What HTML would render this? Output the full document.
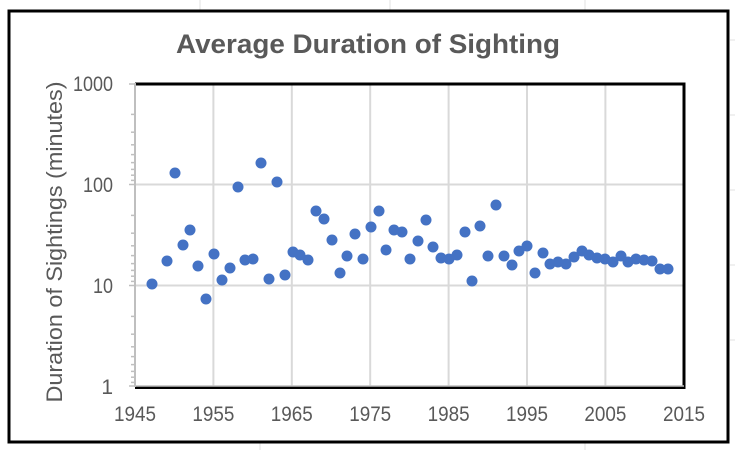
<!DOCTYPE html>
<html><head><meta charset="utf-8"><style>
body{margin:0;background:#fff;}
svg{display:block;font-family:"Liberation Sans",Arial,sans-serif;}
</style></head><body>
<svg width="735" height="450" viewBox="0 0 735 450" xmlns="http://www.w3.org/2000/svg">
<rect width="735" height="450" fill="#fff"/>
<g stroke="#e0e0e0" stroke-width="1">
<line x1="200" y1="0" x2="200" y2="10"/><line x1="390" y1="0" x2="390" y2="10"/><line x1="585" y1="0" x2="585" y2="10"/>
<line x1="730" y1="40" x2="735" y2="40"/><line x1="730" y1="115" x2="735" y2="115"/><line x1="730" y1="190" x2="735" y2="190"/><line x1="730" y1="265" x2="735" y2="265"/><line x1="730" y1="340" x2="735" y2="340"/>
<line x1="585" y1="442" x2="585" y2="450"/><line x1="260" y1="442" x2="260" y2="450"/>
</g>
<rect x="9" y="11" width="719" height="431" fill="#fff" stroke="#000" stroke-width="3"/>
<text x="368" y="53" text-anchor="middle" font-size="27" font-weight="bold" fill="#595959" textLength="384" lengthAdjust="spacingAndGlyphs">Average Duration of Sighting</text>
<g stroke="#d9d9d9" stroke-width="2">
<line x1="213.4" y1="84" x2="213.4" y2="387"/><line x1="291.8" y1="84" x2="291.8" y2="387"/><line x1="370.2" y1="84" x2="370.2" y2="387"/><line x1="448.6" y1="84" x2="448.6" y2="387"/><line x1="527" y1="84" x2="527" y2="387"/><line x1="605.4" y1="84" x2="605.4" y2="387"/>
<line x1="135" y1="184.5" x2="684" y2="184.5"/><line x1="135" y1="285.5" x2="684" y2="285.5"/>
</g>
<polyline points="135,84 684,84 684,387.5 135,387.5" fill="none" stroke="#000" stroke-width="3"/>
<line x1="135" y1="83" x2="135" y2="387" stroke="#bfbfbf" stroke-width="2"/>
<line x1="135" y1="386" x2="684" y2="386" stroke="#bfbfbf" stroke-width="1.5"/>
<g stroke="#bfbfbf" stroke-width="1.5">
<line x1="129" y1="84" x2="135" y2="84"/><line x1="129" y1="184.5" x2="135" y2="184.5"/><line x1="129" y1="285.5" x2="135" y2="285.5"/><line x1="129" y1="386" x2="135" y2="386"/>
<line x1="131" y1="114.4" x2="135" y2="114.4"/><line x1="131" y1="132.2" x2="135" y2="132.2"/><line x1="131" y1="144.8" x2="135" y2="144.8"/><line x1="131" y1="154.6" x2="135" y2="154.6"/><line x1="131" y1="162.6" x2="135" y2="162.6"/><line x1="131" y1="169.4" x2="135" y2="169.4"/><line x1="131" y1="175.2" x2="135" y2="175.2"/><line x1="131" y1="180.4" x2="135" y2="180.4"/>
<line x1="131" y1="215.4" x2="135" y2="215.4"/><line x1="131" y1="233.2" x2="135" y2="233.2"/><line x1="131" y1="245.8" x2="135" y2="245.8"/><line x1="131" y1="255.6" x2="135" y2="255.6"/><line x1="131" y1="263.6" x2="135" y2="263.6"/><line x1="131" y1="270.4" x2="135" y2="270.4"/><line x1="131" y1="276.2" x2="135" y2="276.2"/><line x1="131" y1="281.4" x2="135" y2="281.4"/>
<line x1="131" y1="316.4" x2="135" y2="316.4"/><line x1="131" y1="334.2" x2="135" y2="334.2"/><line x1="131" y1="346.8" x2="135" y2="346.8"/><line x1="131" y1="356.6" x2="135" y2="356.6"/><line x1="131" y1="364.6" x2="135" y2="364.6"/><line x1="131" y1="371.4" x2="135" y2="371.4"/><line x1="131" y1="377.2" x2="135" y2="377.2"/><line x1="131" y1="382.4" x2="135" y2="382.4"/>
</g>
<g font-size="21" fill="#595959" text-anchor="end">
<text x="113" y="91" textLength="40" lengthAdjust="spacingAndGlyphs">1000</text><text x="113" y="192" textLength="30" lengthAdjust="spacingAndGlyphs">100</text><text x="113" y="293" textLength="20" lengthAdjust="spacingAndGlyphs">10</text><text x="113" y="394">1</text>
</g>
<g font-size="21" fill="#595959" text-anchor="middle">
<text x="135" y="421" textLength="42" lengthAdjust="spacingAndGlyphs">1945</text><text x="213.4" y="421" textLength="42" lengthAdjust="spacingAndGlyphs">1955</text><text x="291.8" y="421" textLength="42" lengthAdjust="spacingAndGlyphs">1965</text><text x="370.2" y="421" textLength="42" lengthAdjust="spacingAndGlyphs">1975</text><text x="448.6" y="421" textLength="42" lengthAdjust="spacingAndGlyphs">1985</text><text x="527" y="421" textLength="42" lengthAdjust="spacingAndGlyphs">1995</text><text x="605.4" y="421" textLength="42" lengthAdjust="spacingAndGlyphs">2005</text><text x="684" y="421" textLength="42" lengthAdjust="spacingAndGlyphs">2015</text>
</g>
<text transform="translate(62,242) rotate(-90)" text-anchor="middle" font-size="22" fill="#595959" textLength="321" lengthAdjust="spacingAndGlyphs">Duration of Sightings (minutes)</text>
<g fill="#4472C4">
<circle cx="152" cy="284" r="5.5"/><circle cx="167" cy="261" r="5.5"/><circle cx="175" cy="173" r="5.5"/><circle cx="183" cy="245" r="5.5"/><circle cx="190" cy="230" r="5.5"/><circle cx="198" cy="266" r="5.5"/><circle cx="206" cy="299" r="5.5"/><circle cx="214" cy="254" r="5.5"/><circle cx="222" cy="280" r="5.5"/><circle cx="230" cy="268" r="5.5"/><circle cx="238" cy="187" r="5.5"/><circle cx="245" cy="260" r="5.5"/><circle cx="253" cy="259" r="5.5"/><circle cx="261" cy="163" r="5.5"/><circle cx="269" cy="279" r="5.5"/><circle cx="277" cy="182" r="5.5"/><circle cx="285" cy="275" r="5.5"/><circle cx="293" cy="252" r="5.5"/><circle cx="300" cy="255" r="5.5"/><circle cx="308" cy="260" r="5.5"/><circle cx="316" cy="211" r="5.5"/><circle cx="324" cy="219" r="5.5"/><circle cx="332" cy="240" r="5.5"/><circle cx="340" cy="273" r="5.5"/><circle cx="347" cy="256" r="5.5"/><circle cx="355" cy="234" r="5.5"/><circle cx="363" cy="259" r="5.5"/><circle cx="371" cy="227" r="5.5"/><circle cx="379" cy="211" r="5.5"/><circle cx="386" cy="250" r="5.5"/><circle cx="394" cy="230" r="5.5"/><circle cx="402" cy="232" r="5.5"/><circle cx="410" cy="259" r="5.5"/><circle cx="418" cy="241" r="5.5"/><circle cx="426" cy="220" r="5.5"/><circle cx="433" cy="247" r="5.5"/><circle cx="441" cy="258" r="5.5"/><circle cx="449" cy="259" r="5.5"/><circle cx="457" cy="255" r="5.5"/><circle cx="465" cy="232" r="5.5"/><circle cx="472" cy="281" r="5.5"/><circle cx="480" cy="226" r="5.5"/><circle cx="488" cy="256" r="5.5"/><circle cx="496" cy="205" r="5.5"/><circle cx="504" cy="256" r="5.5"/><circle cx="512" cy="265" r="5.5"/><circle cx="519" cy="251" r="5.5"/><circle cx="527" cy="246" r="5.5"/><circle cx="535" cy="273" r="5.5"/><circle cx="543" cy="253" r="5.5"/><circle cx="550" cy="264" r="5.5"/><circle cx="558" cy="262" r="5.5"/><circle cx="566" cy="264" r="5.5"/><circle cx="574" cy="257" r="5.5"/><circle cx="582" cy="251" r="5.5"/><circle cx="589" cy="255" r="5.5"/><circle cx="597" cy="258" r="5.5"/><circle cx="605" cy="259" r="5.5"/><circle cx="613" cy="262" r="5.5"/><circle cx="621" cy="256" r="5.5"/><circle cx="628" cy="262" r="5.5"/><circle cx="636" cy="259" r="5.5"/><circle cx="644" cy="260" r="5.5"/><circle cx="652" cy="261" r="5.5"/><circle cx="660" cy="269" r="5.5"/><circle cx="668" cy="269" r="5.5"/>
</g>
</svg>
</body></html>
